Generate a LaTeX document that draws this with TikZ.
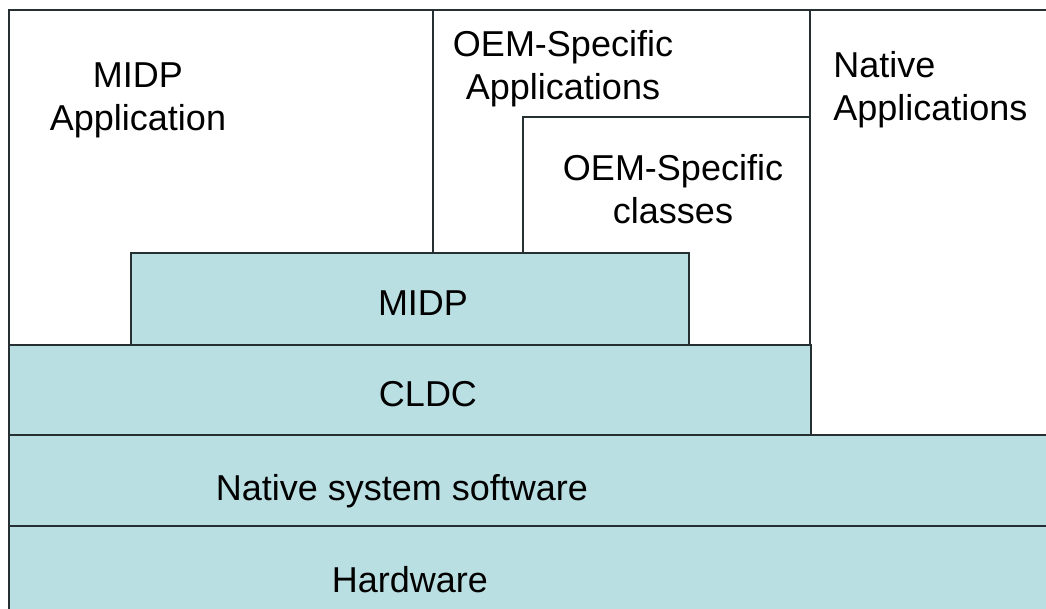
\documentclass[tikz,border=0pt]{standalone}
\usepackage{fontspec}
\setmainfont{Liberation Sans}
\definecolor{layerblue}{RGB}{186,223,226}
\definecolor{edge}{RGB}{38,48,50}

\tikzset{
  wall/.style={draw=edge,line width=1pt},
  layer/.style={wall,fill=layerblue},
  txt/.style={font=\fontsize{18}{21.6}\selectfont,inner sep=0pt,align=center,anchor=north}
}

\begin{document}
\begin{tikzpicture}[x=0.5pt,y=-0.5pt]
  \useasboundingbox (0,0) rectangle (1046,609);
  \clip (0,0) rectangle (1046,609);
  % application area on top
  \draw[wall] (1050,10) -- (9,10) -- (9,615);
  \draw[wall] (433,10) -- (433,253);
  \draw[wall] (523,253) -- (523,117) -- (810,117);
  \draw[wall] (810,10) -- (810,437);
  \draw[wall] (810,435) -- (1050,435);
  % the layers
  \draw[layer] (131,253) rectangle (689,345);
  \draw[layer] (9,345) rectangle (811,435);
  \draw[layer] (9,435) rectangle (1050,526);
  \draw[layer] (9,526) rectangle (1050,615);
  % labels
  \node[txt] (midpapp) at (138,62) {MIDP\\Application};
  \node[txt] (oemapps) at (563,30) {OEM-Specific\\Applications};
  \node[txt] (oemcls) at (673,154) {OEM-Specific\\classes};
  \node[txt,anchor=north west,align=left] (natapps) at (833,51) {Native\\Applications};
  \node[txt] (midp) at (423,290) {MIDP};
  \node[txt] (cldc) at (428,381) {CLDC};
  \node[txt] (natsys) at (402,474) {Native system software};
  \node[txt] (hw) at (410,566) {Hardware};
\end{tikzpicture}
\end{document}
